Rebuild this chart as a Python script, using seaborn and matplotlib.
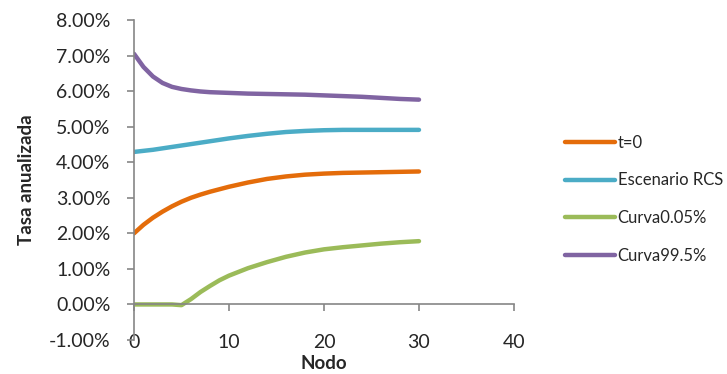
import seaborn as sns
import matplotlib.pyplot as plt
import matplotlib.ticker as mtick
import pandas as pd

# values (percent)
nodes = [0, 1, 2, 3, 4, 5, 6, 7, 8, 9, 10, 12, 14, 16, 18, 20, 22, 24, 26, 28, 30]
t0 = [2.00, 2.24, 2.44, 2.61, 2.76, 2.89, 3.00, 3.09, 3.17, 3.24, 3.31, 3.43,
      3.53, 3.60, 3.65, 3.68, 3.70, 3.71, 3.72, 3.73, 3.74]
rcs = [4.29, 4.32, 4.35, 4.39, 4.43, 4.47, 4.51, 4.55, 4.59, 4.63, 4.67, 4.74,
       4.80, 4.85, 4.88, 4.90, 4.91, 4.91, 4.91, 4.91, 4.91]
low = [0.00, 0.00, 0.00, 0.00, 0.00, -0.02, 0.15, 0.35, 0.52, 0.68, 0.81, 1.02,
       1.19, 1.34, 1.46, 1.55, 1.61, 1.66, 1.71, 1.75, 1.78]
high = [7.05, 6.68, 6.41, 6.23, 6.12, 6.06, 6.02, 5.99, 5.97, 5.96, 5.95, 5.93,
        5.92, 5.91, 5.90, 5.88, 5.86, 5.84, 5.81, 5.78, 5.76]

series = ["t=0", "Escenario RCS", "Curva0.05%", "Curva99.5%"]
colors = ["#E46C0A", "#4BACC6", "#9BBB59", "#8064A2"]

frames = []
for name, ys in zip(series, [t0, rcs, low, high]):
    frames.append(pd.DataFrame({"Nodo": nodes, "Tasa": [v / 100 for v in ys], "Serie": name}))
df = pd.concat(frames, ignore_index=True)

sns.set_style("white")
plt.rcParams["font.family"] = ["Lato", "DejaVu Sans"]
plt.rcParams["axes.unicode_minus"] = False

fig = plt.figure(figsize=(7.27, 3.74), dpi=100)
ax = fig.add_axes([0.1843, 0.0909, 0.5227, 0.8556])

sns.lineplot(data=df, x="Nodo", y="Tasa", hue="Serie", hue_order=series,
             palette=dict(zip(series, colors)), linewidth=3.2, ax=ax,
             solid_capstyle="round", solid_joinstyle="round")

ax.set_xlim(0, 40)
ax.set_ylim(-0.01, 0.08)
ax.set_xticks([0, 10, 20, 30, 40])
ax.set_yticks([i / 100 for i in range(-1, 9)])
ax.yaxis.set_major_formatter(mtick.PercentFormatter(1.0, decimals=2))

gray = "#868686"
for s in ["top", "right"]:
    ax.spines[s].set_visible(False)
ax.spines["bottom"].set_position(("data", 0))
for s in ["left", "bottom"]:
    ax.spines[s].set_color(gray)
    ax.spines[s].set_linewidth(1.2)

ax.tick_params(axis="y", direction="out", length=5, color=gray, width=1.2,
               labelsize=14, labelcolor="#262626", left=True, pad=12)
ax.tick_params(axis="x", direction="out", length=5, color=gray, width=1.2,
               labelsize=14, labelcolor="#262626", pad=16, bottom=True)

ax.set_xlabel("Nodo", fontsize=13.5, fontweight="bold", labelpad=3)
ax.set_ylabel("Tasa anualizada", fontsize=13.5, fontweight="bold", labelpad=10)

ax.legend(loc="center left", bbox_to_anchor=(1.095, 0.44), frameon=False,
          fontsize=12, handlelength=3.0, handletextpad=0.15, labelspacing=1.3)

fig.savefig("out.png", dpi=100)
plt.close(fig)
